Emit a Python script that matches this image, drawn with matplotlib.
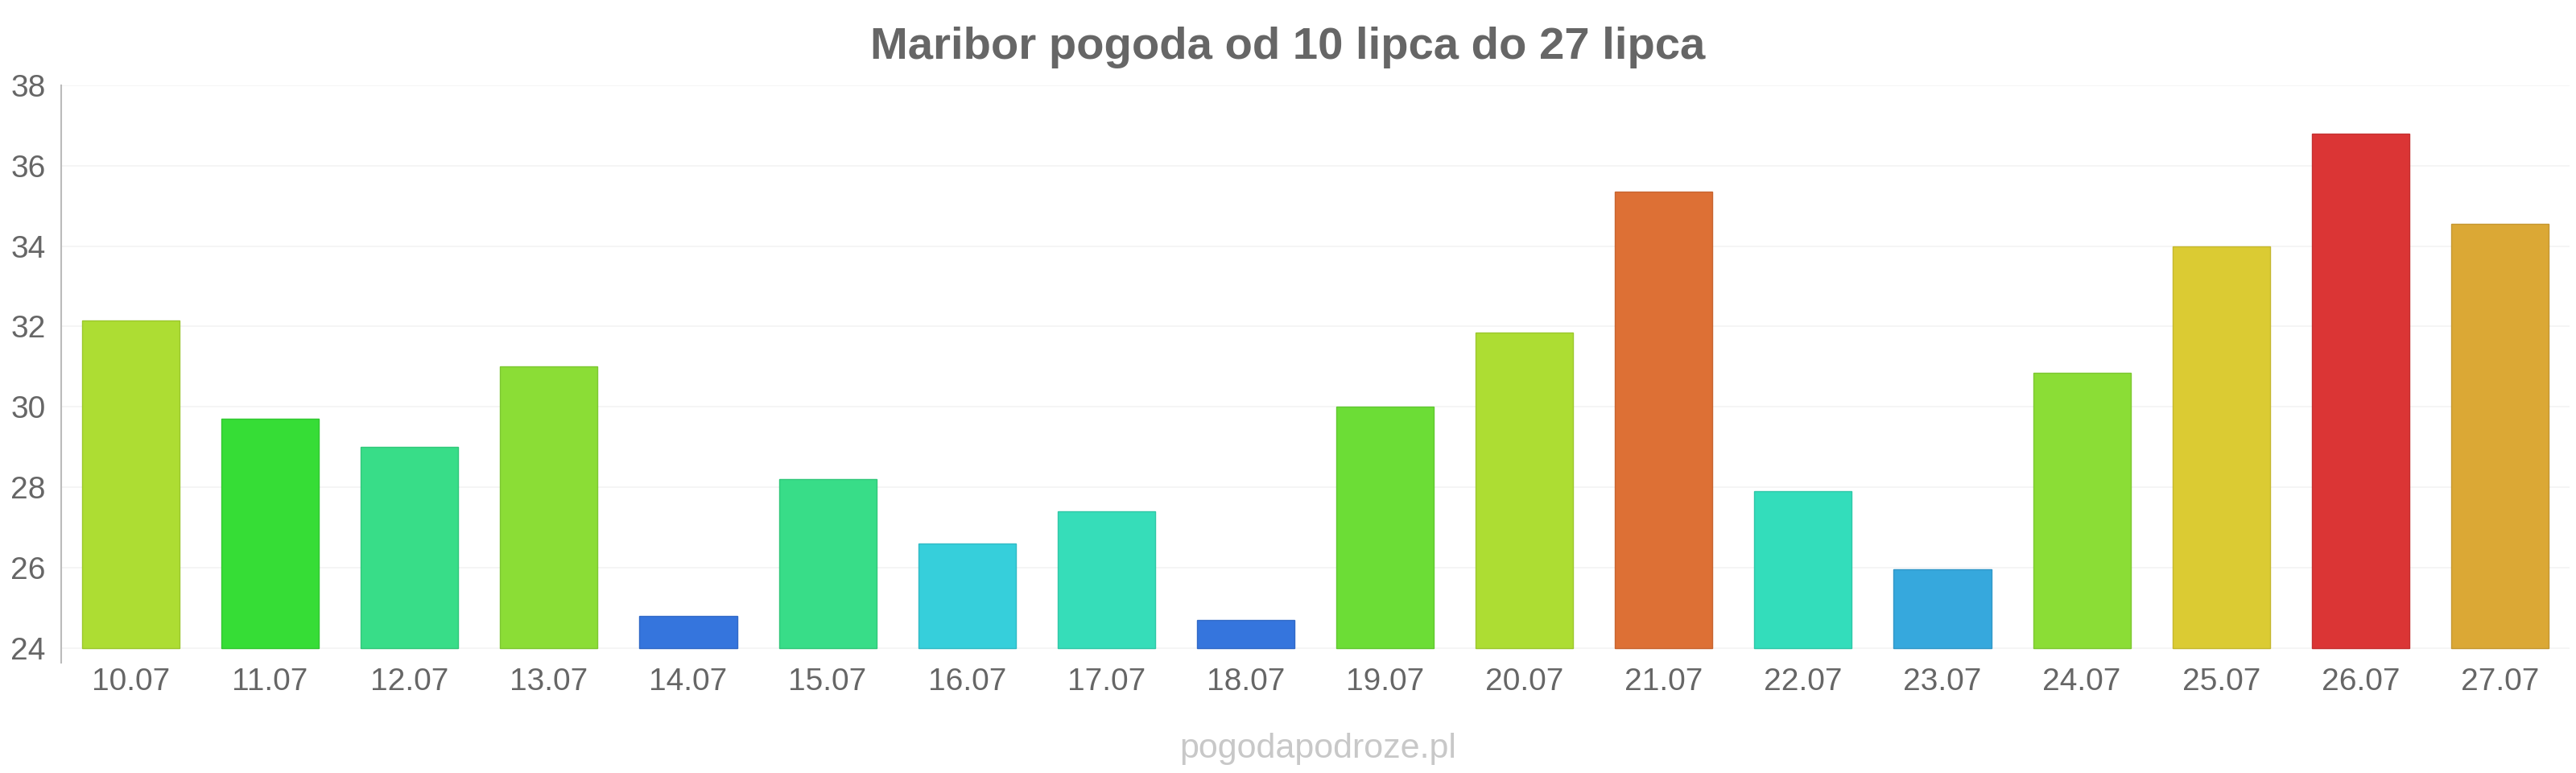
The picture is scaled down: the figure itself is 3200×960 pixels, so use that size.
import matplotlib
matplotlib.use("Agg")
import matplotlib.pyplot as plt
import matplotlib.colors as mcolors
import numpy as np

# --- dane ---
days = ["10.07", "11.07", "12.07", "13.07", "14.07", "15.07", "16.07", "17.07", "18.07",
        "19.07", "20.07", "21.07", "22.07", "23.07", "24.07", "25.07", "26.07", "27.07"]
temps = [32.15, 29.7, 29.0, 31.0, 24.8, 28.2, 26.6, 27.4, 24.7,
         30.0, 31.85, 35.35, 27.9, 25.95, 30.85, 34.0, 36.8, 34.55]
bar_colors = ["#addd33", "#36dd36", "#38dd88", "#8bdd36", "#3575dd", "#38dd88",
              "#36cfdb", "#36ddb9", "#3575dd", "#6cdd36", "#addd33", "#dd7035",
              "#33ddbb", "#36a8dd", "#8bdd36", "#dbcb33", "#db3535", "#dba835"]
y_ticks = [24, 26, 28, 30, 32, 34, 36, 38]
base = 24

title = "Maribor pogoda od 10 lipca do 27 lipca"
watermark = "pogodapodroze.pl"

plt.rcParams['font.family'] = ['Liberation Sans', 'DejaVu Sans']

fig = plt.figure(figsize=(32, 9.6), dpi=100)
ax = fig.add_axes([76 / 3200, 1 - 823 / 960, (3192 - 76) / 3200, (823 - 106) / 960])

x = np.arange(len(days))
edge_colors = [tuple(c * 0.9 for c in mcolors.to_rgb(col)) for col in bar_colors]
ax.bar(x, np.array(temps) - base, bottom=base, width=0.7, color=bar_colors,
       edgecolor=edge_colors, linewidth=1.0, zorder=3)

ax.set_xlim(-0.5, len(days) - 0.5)
ax.set_ylim(23.63, 38)
ax.set_yticks(y_ticks)
ax.set_xticks(x)
ax.set_xticklabels(days)
ax.grid(axis='y', color='#f3f3f3', linewidth=1.1, zorder=0)
ax.set_axisbelow(True)

for s in ['top', 'right', 'bottom']:
    ax.spines[s].set_visible(False)
ax.spines['left'].set_color('#bbbbbb')
ax.spines['left'].set_linewidth(1.5)

ax.tick_params(axis='x', length=0, pad=4, labelsize=28, labelcolor='#666666')
ax.tick_params(axis='y', length=0, pad=14, labelsize=28, labelcolor='#666666')

fig.text(0.5, 1 - 73 / 960, title, ha='center', va='baseline', fontsize=40.5,
         fontweight='bold', color='#666666')
fig.text(1637 / 3200, 1 - 941 / 960, watermark, ha='center', va='baseline',
         fontsize=31, color='#c8c8c8')

fig.savefig("out.png", dpi=100)
